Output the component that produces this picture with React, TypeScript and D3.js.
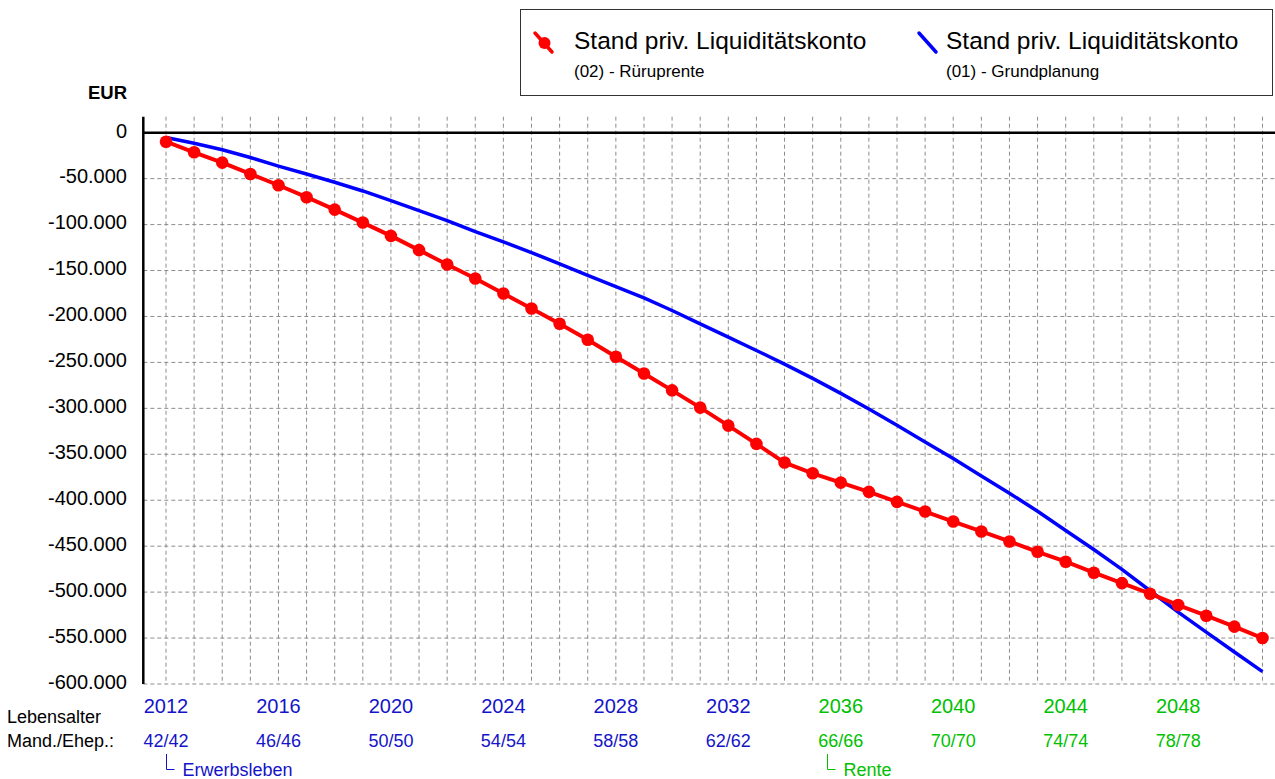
import React from "react";
import * as d3 from "d3";

const years: number[] = d3.range(2012, 2052);

const redValues: number[] = [
  -9800, -21300, -32600, -44900, -57200, -70200, -83700, -97800, -112300, -127800,
  -143500, -158700, -175000, -191300, -207900, -225300, -243800, -262000, -280400, -299200,
  -318800, -338700, -359000, -370700, -380800, -390900, -401800, -412300, -423200, -434000,
  -444900, -456100, -466900, -478900, -490200, -501700, -514100, -525700, -537600, -550000,
];

const blueValues: number[] = [
  -5200, -11500, -18500, -27000, -36300, -45000, -53900, -63400, -73900, -84800,
  -95700, -107600, -118800, -130400, -142700, -155400, -167400, -179700, -193500, -208000,
  -222500, -237000, -251800, -267400, -283700, -300700, -318500, -336500, -354700, -373500,
  -392400, -412000, -432900, -453600, -475300, -498500, -521700, -543500, -565200, -586500,
];

const yTicks: number[] = [0, -50000, -100000, -150000, -200000, -250000, -300000, -350000, -400000, -450000, -500000, -550000, -600000];
const yTickLabels: string[] = ["0", "-50.000", "-100.000", "-150.000", "-200.000", "-250.000", "-300.000", "-350.000", "-400.000", "-450.000", "-500.000", "-550.000", "-600.000"];

const labelYears: number[] = [2012, 2016, 2020, 2024, 2028, 2032, 2036, 2040, 2044, 2048];
const ageLabels: string[] = ["42/42", "46/46", "50/50", "54/54", "58/58", "62/62", "66/66", "70/70", "74/74", "78/78"];

const phases = [
  { name: "Erwerbsleben", start: 2012, color: "#1414c8" },
  { name: "Rente", start: 2035.5, color: "#00c000" },
];
const retirementYear = 2035.5;

const legendItems = [
  { title: "Stand priv. Liquiditätskonto", sub: "(02) - Rüruprente", color: "#ff0000", marker: true },
  { title: "Stand priv. Liquiditätskonto", sub: "(01) - Grundplanung", color: "#0000ff", marker: false },
];

const FONT = "'Liberation Sans', Arial, Helvetica, sans-serif";
const W = 1275;
const H = 779;

export default function App() {
  const x = d3.scaleLinear().domain([2012, 2051]).range([166, 1262.5]);
  const y = d3.scaleLinear().domain([0, -600000]).range([132.7, 684]);
  const axisX = 143.3;
  const plotRight = 1275;
  const plotTop = 116.7;

  const line = d3
    .line<number>()
    .x((_, i) => x(years[i]))
    .y((d) => y(d));

  const blue = "#1414c8";
  const green = "#00c000";
  const colorFor = (yr: number) => (yr < retirementYear ? blue : green);

  return (
    <svg
      width={W}
      height={H}
      style={{ position: "absolute", left: 0, top: 0, background: "#fff" }}
      fontFamily={FONT}
    >
      {/* Legend */}
      <rect x={520.5} y={9.5} width={752} height={86} fill="#fff" stroke="#333" strokeWidth={1} />
      {legendItems.map((it, i) => {
        const lx = i === 0 ? 574 : 946;
        const sx = i === 0 ? 535 : 919;
        return (
          <g key={i}>
            <line
              x1={sx}
              y1={33}
              x2={sx + 17}
              y2={52}
              stroke={it.color}
              strokeWidth={3.5}
              strokeLinecap="round"
            />
            {it.marker && <circle cx={sx + 9.5} cy={43} r={6} fill={it.color} />}
            <text x={lx} y={49} fontSize={24.5} fill="#000">
              {it.title}
            </text>
            <text x={lx} y={77} fontSize={17} fill="#000">
              {it.sub}
            </text>
          </g>
        );
      })}

      {/* EUR label */}
      <text x={127} y={99.3} fontSize={18.5} fontWeight="bold" textAnchor="end" fill="#000">
        EUR
      </text>

      {/* Grid */}
      <g stroke="#8c8c8c" strokeWidth={1} strokeDasharray="4,3" fill="none">
        {years.map((yr) => (
          <line key={"v" + yr} x1={x(yr)} x2={x(yr)} y1={plotTop} y2={y(-600000)} />
        ))}
        {yTicks
          .filter((t) => t !== 0)
          .map((t) => (
            <line key={"h" + t} x1={axisX} x2={plotRight} y1={y(t)} y2={y(t)} />
          ))}
      </g>

      {/* zero line and y axis */}
      <line x1={axisX} x2={plotRight} y1={y(0)} y2={y(0)} stroke="#000" strokeWidth={2.5} />
      <line x1={axisX} x2={axisX} y1={plotTop} y2={y(-600000)} stroke="#000" strokeWidth={2.5} />

      {/* y tick labels */}
      {yTicks.map((t, i) => (
        <text key={"yl" + t} x={127} y={y(t) + 4.8} fontSize={20} textAnchor="end" fill="#000">
          {yTickLabels[i]}
        </text>
      ))}

      {/* series */}
      <path d={line(blueValues) || ""} fill="none" stroke="#0000ff" strokeWidth={3.5} strokeLinejoin="round" />
      <path d={line(redValues) || ""} fill="none" stroke="#ff0000" strokeWidth={4} strokeLinejoin="round" />
      {redValues.map((v, i) => (
        <circle key={"p" + i} cx={x(years[i])} cy={y(v)} r={6.3} fill="#ff0000" />
      ))}

      {/* x labels */}
      {labelYears.map((yr, i) => (
        <g key={"xl" + yr}>
          <text x={x(yr)} y={713.3} fontSize={20} textAnchor="middle" fill={colorFor(yr)}>
            {yr}
          </text>
          <text x={x(yr)} y={747.3} fontSize={18} textAnchor="middle" fill={colorFor(yr)}>
            {ageLabels[i]}
          </text>
        </g>
      ))}
      <text x={7} y={723.3} fontSize={18} fill="#000">
        Lebensalter
      </text>
      <text x={7} y={747} fontSize={18} fill="#000">
        Mand./Ehep.:
      </text>

      {/* phases */}
      {phases.map((p) => {
        const px = Math.round(x(p.start)) + 0.5;
        return (
          <g key={p.name}>
            <path
              d={`M${px},754 V769.5 H${px + 8}`}
              fill="none"
              stroke={p.color}
              strokeWidth={1}
            />
            <text x={px + 16} y={776} fontSize={18} fill={p.color}>
              {p.name}
            </text>
          </g>
        );
      })}
    </svg>
  );
}
